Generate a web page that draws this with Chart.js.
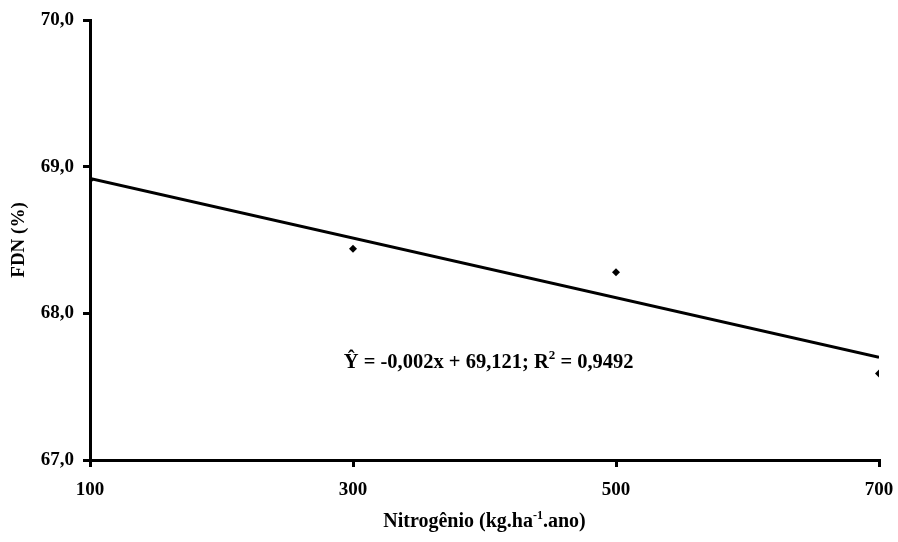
<!DOCTYPE html>
<html>
<head>
<meta charset="utf-8">
<script src="https://cdn.jsdelivr.net/npm/chart.js@4"></script>
<style>
  html, body { margin: 0; padding: 0; background: #fff; }
  #wrap { width: 898px; height: 542px; }
</style>
</head>
<body>
<div id="wrap"><canvas id="fdnChart" width="898" height="542"></canvas></div>
<script>
// doses de nitrogênio e FDN observada
const nitrogenio = [100, 300, 500, 700];
const fdn = [68.91, 68.44, 68.28, 67.59];
// reta ajustada (extremos)
const retaX = [100, 700];
const retaY = [68.92, 67.70];
const eixoY = { min: 67, max: 70, passo: 1 };
const eixoX = { min: 100, max: 700, passo: 200 };

const FONTE = "'Liberation Serif', 'Times New Roman', serif";

// texto com sobrescrito: partes [texto, sobrescrito?]
function desenhaPartes(ctx, partes, x, y, tam, align) {
    const small = Math.round(tam * 0.62);
    let total = 0;
    partes.forEach(p => {
        ctx.font = "bold " + (p[1] ? small : tam) + "px " + FONTE;
        total += ctx.measureText(p[0]).width;
    });
    let cx = align === "center" ? x - total / 2 : x;
    ctx.textAlign = "left";
    ctx.textBaseline = "alphabetic";
    partes.forEach(p => {
        ctx.font = "bold " + (p[1] ? small : tam) + "px " + FONTE;
        ctx.fillText(p[0], cx, p[1] ? y - tam * 0.42 : y);
        cx += ctx.measureText(p[0]).width;
    });
}

const textos = {
    id: "textos",
    afterDraw(chart) {
        const ctx = chart.ctx;
        const sx = chart.scales.x, sy = chart.scales.y;
        ctx.save();
        ctx.fillStyle = "#000";
        // equação
        desenhaPartes(ctx, [["Ŷ = -0,002x + 69,121; R", false], ["2", true], [" = 0,9492", false]],
            sx.getPixelForValue(293), sy.getPixelForValue(67.63), 20.5, "left");
        // título do eixo x
        desenhaPartes(ctx, [["Nitrogênio (kg.ha", false], ["-1", true], [".ano)", false]],
            (chart.chartArea.left + chart.chartArea.right) / 2, 527, 20, "center");
        ctx.restore();
    }
};

new Chart(document.getElementById("fdnChart"), {
    type: "scatter",
    data: {
        datasets: [
            {
                label: "FDN",
                data: nitrogenio.map((n, i) => ({ x: n, y: fdn[i] })),
                pointStyle: "rectRot",
                pointRadius: 4,
                backgroundColor: "#000",
                borderColor: "#000",
                borderWidth: 0,
                showLine: false
            },
            {
                label: "Reta",
                data: retaX.map((n, i) => ({ x: n, y: retaY[i] })),
                showLine: true,
                pointRadius: 0,
                borderColor: "#000",
                borderWidth: 3
            }
        ]
    },
    options: {
        responsive: false,
        animation: false,
        layout: { padding: { top: 20, right: 19, left: 0, bottom: 0 } },
        plugins: {
            legend: { display: false },
            tooltip: { enabled: false }
        },
        scales: {
            x: {
                type: "linear",
                min: eixoX.min,
                max: eixoX.max,
                ticks: {
                    stepSize: eixoX.passo,
                    color: "#000",
                    padding: 12,
                    maxRotation: 0,
                    font: { family: FONTE, size: 19, weight: "bold" }
                },
                grid: { drawOnChartArea: false, drawTicks: true, tickLength: 7, color: "#000", lineWidth: 3 },
                border: { color: "#000", width: 3 },
                afterFit(axis) {
                    axis.height = 82;
                    axis.paddingLeft = 0;
                    axis.paddingRight = 0;
                }
            },
            y: {
                min: eixoY.min,
                max: eixoY.max,
                ticks: {
                    stepSize: eixoY.passo,
                    color: "#000",
                    padding: 9,
                    font: { family: FONTE, size: 19, weight: "bold" },
                    callback: v => v.toFixed(1).replace(".", ",")
                },
                grid: { drawOnChartArea: false, drawTicks: true, tickLength: 7, color: "#000", lineWidth: 3 },
                border: { color: "#000", width: 3 },
                title: {
                    display: true,
                    text: "FDN (%)",
                    color: "#000",
                    padding: { top: 8, bottom: 0 },
                    font: { family: FONTE, size: 19, weight: "bold" }
                },
                afterFit(axis) {
                    axis.width = 90;
                    axis.paddingTop = 0;
                    axis.paddingBottom = 0;
                }
            }
        }
    },
    plugins: [textos]
});
</script>
</body>
</html>
